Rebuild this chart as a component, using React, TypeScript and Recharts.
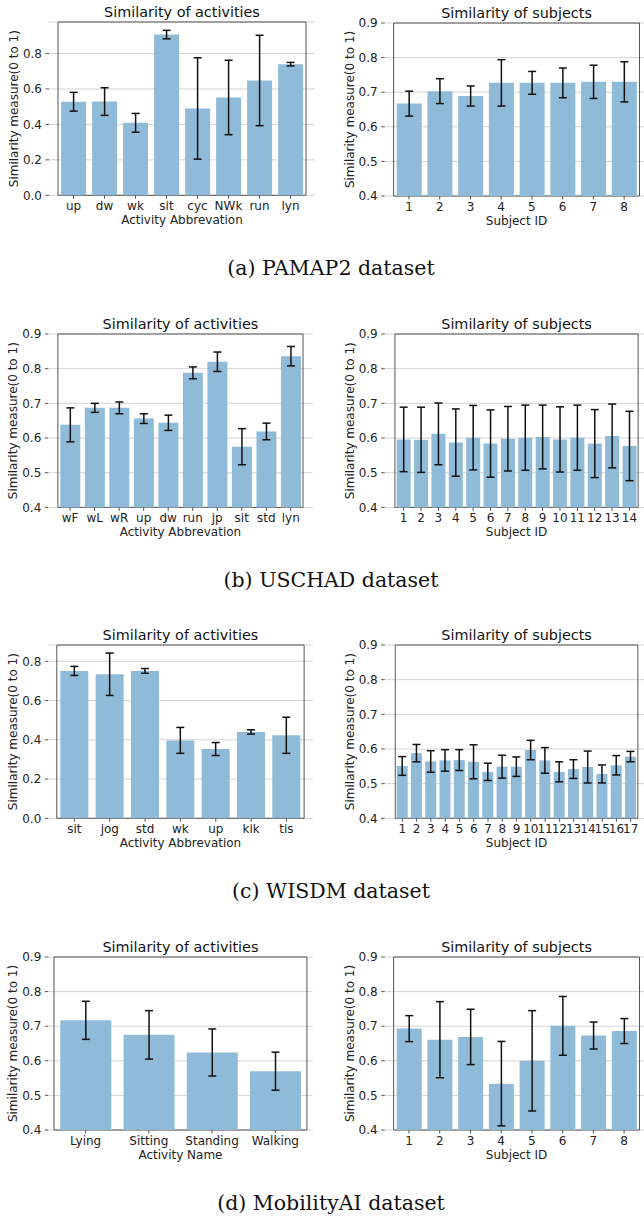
import { BarChart, Bar, XAxis, YAxis, CartesianGrid, ErrorBar, ReferenceArea } from 'recharts';

// (a) PAMAP2
const pamapActivities = ['up', 'dw', 'wk', 'sit', 'cyc', 'NWk', 'run', 'lyn'];
const pamapActivityMean = [0.528, 0.529, 0.409, 0.907, 0.49, 0.552, 0.648, 0.74];
const pamapActivityErr = [0.053, 0.078, 0.053, 0.024, 0.286, 0.21, 0.255, 0.01];
const pamapSubjects = ['1', '2', '3', '4', '5', '6', '7', '8'];
const pamapSubjectMean = [0.667, 0.703, 0.689, 0.727, 0.727, 0.727, 0.73, 0.73];
const pamapSubjectErr = [0.036, 0.036, 0.029, 0.067, 0.033, 0.043, 0.048, 0.058];

// (b) USCHAD
const uschadActivities = ['wF', 'wL', 'wR', 'up', 'dw', 'run', 'jp', 'sit', 'std', 'lyn'];
const uschadActivityMean = [0.638, 0.687, 0.687, 0.656, 0.644, 0.788, 0.82, 0.575, 0.619, 0.836];
const uschadActivityErr = [0.049, 0.013, 0.017, 0.014, 0.022, 0.017, 0.028, 0.052, 0.024, 0.028];
const uschadSubjects = ['1', '2', '3', '4', '5', '6', '7', '8', '9', '10', '11', '12', '13', '14'];
const uschadSubjectMean = [0.596, 0.595, 0.612, 0.587, 0.601, 0.584, 0.598, 0.601, 0.603, 0.596, 0.601, 0.584, 0.606, 0.577];
const uschadSubjectErr = [0.093, 0.094, 0.089, 0.097, 0.093, 0.097, 0.093, 0.094, 0.092, 0.094, 0.094, 0.098, 0.092, 0.1];

// (c) WISDM
const wisdmActivities = ['sit', 'jog', 'std', 'wk', 'up', 'kik', 'tis'];
const wisdmActivityMean = [0.751, 0.734, 0.751, 0.397, 0.353, 0.44, 0.423];
const wisdmActivityErr = [0.023, 0.108, 0.012, 0.066, 0.033, 0.011, 0.092];
const wisdmSubjects = ['1', '2', '3', '4', '5', '6', '7', '8', '9', '10', '11', '12', '13', '14', '15', '16', '17'];
const wisdmSubjectMean = [0.551, 0.588, 0.564, 0.567, 0.568, 0.563, 0.534, 0.549, 0.549, 0.597, 0.567, 0.534, 0.542, 0.548, 0.528, 0.553, 0.578];
const wisdmSubjectErr = [0.027, 0.025, 0.031, 0.031, 0.03, 0.049, 0.025, 0.033, 0.028, 0.028, 0.037, 0.029, 0.027, 0.046, 0.026, 0.028, 0.015];

// (d) MobilityAI
const mobilityActivities = ['Lying', 'Sitting', 'Standing', 'Walking'];
const mobilityActivityMean = [0.717, 0.675, 0.624, 0.57];
const mobilityActivityErr = [0.055, 0.07, 0.068, 0.055];
const mobilitySubjects = ['1', '2', '3', '4', '5', '6', '7', '8'];
const mobilitySubjectMean = [0.693, 0.661, 0.669, 0.534, 0.6, 0.701, 0.673, 0.686];
const mobilitySubjectErr = [0.0375, 0.11, 0.08, 0.122, 0.145, 0.085, 0.039, 0.036];

const fullTicks = [0, 0.2, 0.4, 0.6, 0.8];
const zoomTicks = [0.4, 0.5, 0.6, 0.7, 0.8, 0.9];

const SANS = 'DejaVu Sans';
const BAR = '#8fbbd9';
const SPINE = '#555';

interface PanelProps {
  left: number;
  width: number;
  plotLeft: number;
  plotRight: number;
  plotTop: number;
  plotHeight: number;
  title: string;
  xLabel: string;
  cats: string[];
  means: number[];
  errs: number[];
  domain: [number, number];
  ticks: number[];
}

function Panel(p: PanelProps) {
  const W = p.plotRight - p.plotLeft;
  const n = p.cats.length;
  // matplotlib-like side margins around the bars
  const u = W / (1.1 * (n - 0.2));
  const pad = (W - n * u) / 2;
  const data = p.cats.map((c, i) => ({ name: c, value: p.means[i], err: p.errs[i] }));
  const top = 30;
  const chartH = top + p.plotHeight + 42;
  const cx = (p.plotLeft + p.plotRight) / 2 - p.left;
  const yAxisW = p.plotLeft - p.left;
  const ylx = yAxisW - 31;
  const yly = top + p.plotHeight / 2;

  return (
    <div style={{ position: 'absolute', left: p.left, top: p.plotTop - top }}>
      <BarChart
        width={p.width}
        height={chartH}
        data={data}
        margin={{ top, right: p.width - (p.plotRight - p.left), bottom: 0, left: 0 }}
        barCategoryGap="10%"
      >
        <CartesianGrid vertical={false} stroke="#d4d4d4" />
        <XAxis
          dataKey="name"
          padding={{ left: pad, right: pad }}
          height={42}
          interval={0}
          tickSize={3.5}
          tickMargin={3}
          axisLine={false}
          tickLine={{ stroke: SPINE }}
          tick={{ fill: '#222', fontSize: 12, fontFamily: SANS }}
        />
        <YAxis
          type="number"
          domain={p.domain}
          ticks={p.ticks}
          width={yAxisW}
          tickSize={3.5}
          tickMargin={3.5}
          axisLine={false}
          tickLine={{ stroke: SPINE }}
          tick={{ fill: '#222', fontSize: 12, fontFamily: SANS }}
          tickFormatter={(v: number) => v.toFixed(1)}
        />
        <Bar dataKey="value" fill={BAR} isAnimationActive={false}>
          <ErrorBar dataKey="err" width={4} stroke="#111" strokeWidth={1.5} isAnimationActive={false} />
        </Bar>
        <ReferenceArea y1={p.domain[0]} y2={p.domain[1]} fill="none" fillOpacity={0} stroke={SPINE} strokeWidth={1} />
        <text x={cx} y={top - 5} textAnchor="middle" fontSize={14.4} fontFamily={SANS} fill="#111">
          {p.title}
        </text>
        <text x={cx} y={top + p.plotHeight + 29} textAnchor="middle" fontSize={12} fontFamily={SANS} fill="#222">
          {p.xLabel}
        </text>
        <text
          x={ylx}
          y={yly}
          transform={`rotate(-90, ${ylx}, ${yly})`}
          textAnchor="middle"
          fontSize={12}
          fontFamily={SANS}
          fill="#222"
        >
          Similarity measure(0 to 1)
        </text>
      </BarChart>
    </div>
  );
}

const captions = ['(a) PAMAP2 dataset', '(b) USCHAD dataset', '(c) WISDM dataset', '(d) MobilityAI dataset'];
const captionY = [275, 587, 898, 1210];

export default function App() {
  const L = { left: 0, width: 322 };
  const R = { left: 322, width: 330, plotLeft: 384.7, plotRight: 648.4 };
  return (
    <div style={{ position: 'absolute', left: 0, top: 0, width: 644, height: 1216, overflow: 'hidden', background: '#fff' }}>
      <svg width={644} height={1216} style={{ position: 'absolute', left: 0, top: 0 }}>
        {captions.map((c, i) => (
          <text key={c} x={331} y={captionY[i]} textAnchor="middle" fontSize={20.5} fontFamily="DejaVu Serif" fill="#111">
            {c}
          </text>
        ))}
      </svg>

      <Panel {...L} plotLeft={49} plotRight={315} plotTop={22} plotHeight={173.3}
        title="Similarity of activities" xLabel="Activity Abbrevation"
        cats={pamapActivities} means={pamapActivityMean} errs={pamapActivityErr}
        domain={[0, 0.978]} ticks={fullTicks} />
      <Panel {...R} plotTop={23.3} plotHeight={173}
        title="Similarity of subjects" xLabel="Subject ID"
        cats={pamapSubjects} means={pamapSubjectMean} errs={pamapSubjectErr}
        domain={[0.4, 0.9]} ticks={zoomTicks} />

      <Panel {...L} plotLeft={48.3} plotRight={312.6} plotTop={334.3} plotHeight={173.4}
        title="Similarity of activities" xLabel="Activity Abbrevation"
        cats={uschadActivities} means={uschadActivityMean} errs={uschadActivityErr}
        domain={[0.4, 0.9]} ticks={zoomTicks} />
      <Panel {...R} plotTop={334.3} plotHeight={173.4}
        title="Similarity of subjects" xLabel="Subject ID"
        cats={uschadSubjects} means={uschadSubjectMean} errs={uschadSubjectErr}
        domain={[0.4, 0.9]} ticks={zoomTicks} />

      <Panel {...L} plotLeft={48.3} plotRight={312.6} plotTop={645} plotHeight={173.3}
        title="Similarity of activities" xLabel="Activity Abbrevation"
        cats={wisdmActivities} means={wisdmActivityMean} errs={wisdmActivityErr}
        domain={[0, 0.883]} ticks={fullTicks} />
      <Panel {...R} plotTop={645} plotHeight={173.3}
        title="Similarity of subjects" xLabel="Subject ID"
        cats={wisdmSubjects} means={wisdmSubjectMean} errs={wisdmSubjectErr}
        domain={[0.4, 0.9]} ticks={zoomTicks} />

      <Panel {...L} plotLeft={48.3} plotRight={312.6} plotTop={957.3} plotHeight={173}
        title="Similarity of activities" xLabel="Activity Name"
        cats={mobilityActivities} means={mobilityActivityMean} errs={mobilityActivityErr}
        domain={[0.4, 0.9]} ticks={zoomTicks} />
      <Panel {...R} plotTop={957.3} plotHeight={173}
        title="Similarity of subjects" xLabel="Subject ID"
        cats={mobilitySubjects} means={mobilitySubjectMean} errs={mobilitySubjectErr}
        domain={[0.4, 0.9]} ticks={zoomTicks} />
    </div>
  );
}
